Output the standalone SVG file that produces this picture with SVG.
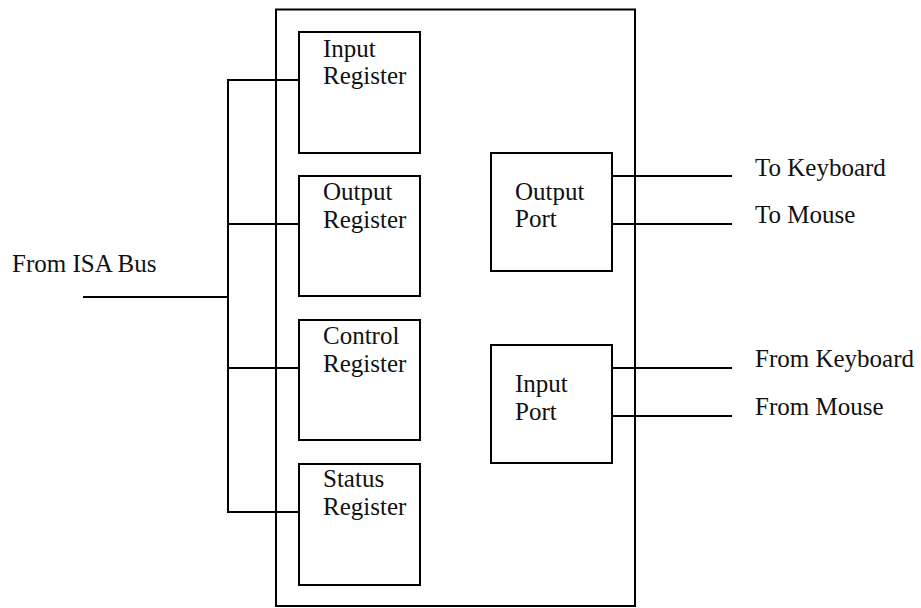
<svg xmlns="http://www.w3.org/2000/svg" width="921" height="608" viewBox="0 0 921 608">
  <style>
    .box { fill: none; stroke: #000; stroke-width: 2; }
    .wire { fill: none; stroke: #000; stroke-width: 2; }
    text { font-family: "Liberation Serif", "Times New Roman", serif; font-size: 25px; fill: #111; }
  </style>
  <rect width="921" height="608" fill="#fff"/>

  <!-- controller enclosure -->
  <g id="controller">
    <rect class="box" x="276" y="9.5" width="359" height="596.5"/>
  </g>

  <g id="connectors">
    <!-- bus side -->
    <line class="wire" x1="83" y1="297" x2="228" y2="297"/>
    <line class="wire" x1="228" y1="79" x2="228" y2="513"/>
    <line class="wire" x1="227" y1="80" x2="299" y2="80"/>
    <line class="wire" x1="227" y1="224" x2="299" y2="224"/>
    <line class="wire" x1="227" y1="368" x2="299" y2="368"/>
    <line class="wire" x1="227" y1="512" x2="299" y2="512"/>
    <!-- device side -->
    <line class="wire" x1="612" y1="176" x2="732" y2="176"/>
    <line class="wire" x1="612" y1="224" x2="732" y2="224"/>
    <line class="wire" x1="612" y1="368" x2="732" y2="368"/>
    <line class="wire" x1="612" y1="416" x2="732" y2="416"/>
  </g>

  <g id="input-register">
    <rect class="box" x="299" y="32" width="121" height="121"/>
    <text x="323" y="57">Input</text>
    <text x="323" y="84">Register</text>
  </g>
  <g id="output-register">
    <rect class="box" x="299" y="176" width="121" height="120"/>
    <text x="323" y="200">Output</text>
    <text x="323" y="228">Register</text>
  </g>
  <g id="control-register">
    <rect class="box" x="299" y="320" width="121" height="120"/>
    <text x="323" y="344">Control</text>
    <text x="323" y="372">Register</text>
  </g>
  <g id="status-register">
    <rect class="box" x="299" y="464" width="121" height="121"/>
    <text x="323" y="487">Status</text>
    <text x="323" y="515">Register</text>
  </g>

  <g id="output-port">
    <rect class="box" x="491" y="153" width="121" height="118"/>
    <text x="515" y="200">Output</text>
    <text x="515" y="227">Port</text>
  </g>
  <g id="input-port">
    <rect class="box" x="491" y="345" width="121" height="118"/>
    <text x="515" y="392">Input</text>
    <text x="515" y="420">Port</text>
  </g>

  <g id="labels">
    <text x="12" y="272">From ISA Bus</text>
    <text x="755" y="176">To Keyboard</text>
    <text x="755" y="223">To Mouse</text>
    <text x="755" y="367">From Keyboard</text>
    <text x="755" y="415">From Mouse</text>
  </g>
</svg>
